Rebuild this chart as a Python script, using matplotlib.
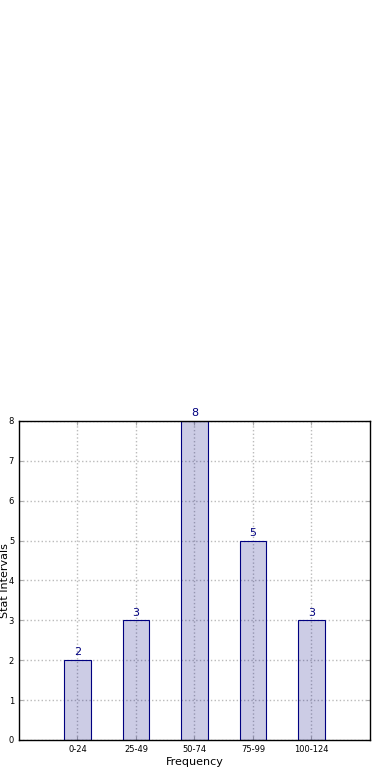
import matplotlib
matplotlib.use('Agg')
import matplotlib.pyplot as plt
import numpy as np

intervals = ['0-24', '25-49', '50-74', '75-99', '100-124']
counts = [2, 3, 8, 5, 3]

fig = plt.figure(figsize=(3.9, 7.8), dpi=100)
ax = fig.add_axes([0.0487, 0.0513, 0.9, 0.4090])

x = np.arange(len(intervals))
bars = ax.bar(x, counts, width=0.45, color=(0.0, 0.0, 0.5, 0.2),
              edgecolor='navy', linewidth=0.8, zorder=2)

# value above each bar
for xi, c in zip(x, counts):
    ax.annotate(str(c), (xi, c), xytext=(0, 2), textcoords='offset points',
                ha='center', va='bottom', color='navy', fontsize=8)

ax.set_xlim(-1, 5)
ax.set_ylim(0, 8)
ax.set_xticks(x)
ax.set_xticklabels(intervals, fontsize=6)
ax.set_yticks(range(0, 9))
ax.tick_params(axis='y', labelsize=6)
ax.tick_params(direction='in', length=3, color='#aaaaaa', top=True, right=True)
ax.grid(True, color='#bbbbbb', linestyle=':', linewidth=1, zorder=1)
ax.set_axisbelow(True)
for s in ax.spines.values():
    s.set_linewidth(1)

ax.set_xlabel('Frequency', fontsize=8, labelpad=2)
ax.set_ylabel('Stat Intervals', fontsize=8)
ax.yaxis.set_label_coords(-0.027, 0.5)

fig.savefig('out.png', dpi=100)
